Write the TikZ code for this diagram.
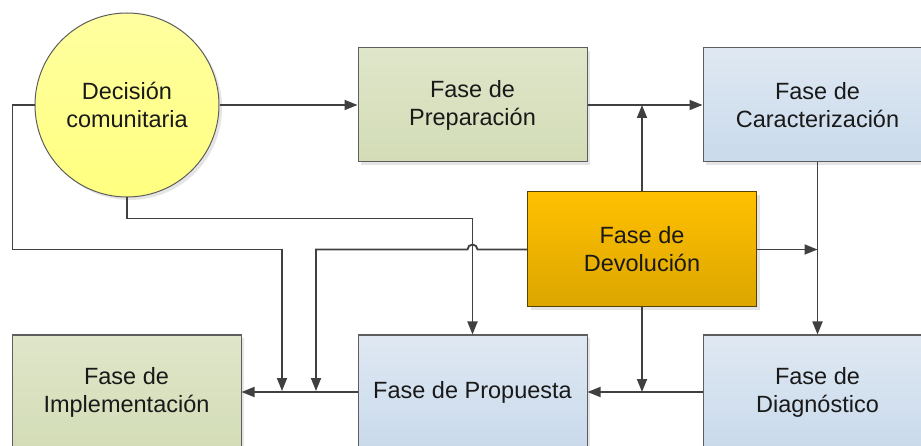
\documentclass[tikz,border=0pt]{standalone}
\usepackage{fontspec}
\setmainfont{Liberation Sans}
\usepackage{xcolor}
\usepackage{tikz}
\usetikzlibrary{positioning,shadows,arrows.meta}
\tikzset{>={Triangle[length=13pt,width=10pt]}}

\definecolor{linegray}{HTML}{404040}
\definecolor{edgegray}{HTML}{5E5E5E}
\definecolor{yellowtop}{HTML}{FFFFA0}
\definecolor{yellowbot}{HTML}{FFFF80}
\definecolor{greentop}{HTML}{DFE6CA}
\definecolor{greenbot}{HTML}{D3DCB6}
\definecolor{bluetop}{HTML}{DFE8F2}
\definecolor{bluebot}{HTML}{C9DAEC}
\definecolor{orangetop}{HTML}{FFC000}
\definecolor{orangebot}{HTML}{DCA600}

\begin{document}
\begin{tikzpicture}[x=1pt,y=1pt,
basenode/.style={align=center, draw=edgegray, line width=1pt, inner sep=0pt, text=black!90,
  font=\fontsize{23.5}{28}\selectfont,
  drop shadow={shadow xshift=3pt, shadow yshift=-3pt, fill=black!10, opacity=1}},
phasebox/.style={basenode, rectangle, minimum width=229pt, minimum height=114pt},
decisioncircle/.style={basenode, circle, minimum size=184pt, top color=yellowtop, bottom color=yellowbot},
greenbox/.style={phasebox, top color=greentop, bottom color=greenbot},
bluebox/.style={phasebox, top color=bluetop, bottom color=bluebot},
orangebox/.style={phasebox, minimum height=115pt, top color=orangetop, bottom color=orangebot, draw=black!60!orangebot},
flow/.style={->, draw=linegray, line width=1.8pt},
]
\path[use as bounding box, clip] (0,0) rectangle (921,-446);

%Nodes
\node[decisioncircle](Decision) at (127,-105){Decisión\\comunitaria};
\node[greenbox](Preparacion)[right=138pt of Decision]{Fase de\\Preparación};
\node[bluebox](Caracterizacion)[right=115pt of Preparacion]{Fase de\\Caracterización};
\node[bluebox](Diagnostico)[below=172pt of Caracterizacion]{Fase de\\Diagnóstico};
\node[bluebox](Propuesta)[left=115pt of Diagnostico]{Fase de Propuesta};
\node[greenbox](Implementacion)[left=116pt of Propuesta]{Fase de\\Implementación};
\node[orangebox](Devolucion) at (642,-249.5){Fase de\\Devolución};

%Junctions
\coordinate (loopA) at (282,-391);
\coordinate (loopC) at (316,-391);
\coordinate (hop) at (Propuesta.north |- Devolucion.west);

%Lines
\draw[flow] (Decision) -- (Preparacion);
\draw[flow] (Preparacion) -- (Caracterizacion);
\draw[flow] (Caracterizacion) -- (Diagnostico);
\draw[flow] (Diagnostico) -- (Propuesta);
\draw[flow] (Propuesta) -- (Implementacion);
\draw[flow] (Devolucion.north) -- (Devolucion.north |- Preparacion.east);
\draw[flow] (Devolucion.east) -- (Devolucion.east -| Caracterizacion.south);
\draw[flow] (Devolucion.south) -- (Devolucion.south |- Propuesta.east);
\draw[flow] (Decision.west) -- ++(-22,0) |- (loopA |- Devolucion.west) -- (loopA);
\draw[flow] (Decision.south) -- ++(0,-21) -| (Propuesta.north);
\draw[flow] (Devolucion.west) -- ([xshift=5pt]hop) arc[start angle=0, end angle=180, radius=5pt] -| (loopC);
\end{tikzpicture}
\end{document}
